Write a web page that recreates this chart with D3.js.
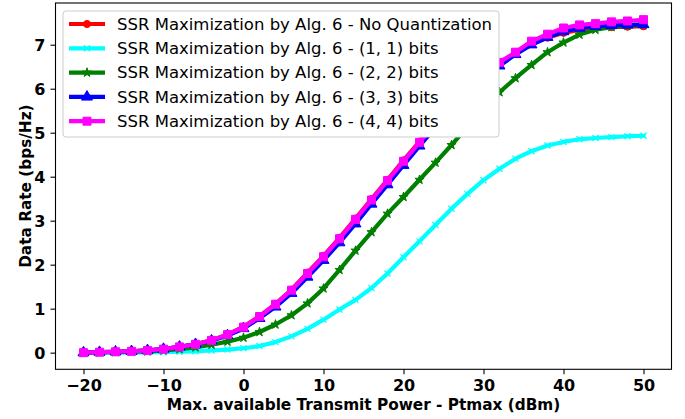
<!DOCTYPE html>
<html>
<head>
<meta charset="utf-8">
<script src="https://cdn.jsdelivr.net/npm/d3@7"></script>
<style>
  body { margin: 0; background: #fff; }
  svg { font-family: "DejaVu Sans", sans-serif; }
</style>
</head>
<body>
<svg id="chart" width="685" height="419"></svg>
<script>
// transmit power (dBm), one point every 2 dBm
var power = d3.range(-20, 51, 2);

var noQuant = [0, 0.01, 0.02, 0.03, 0.05, 0.08, 0.13, 0.19, 0.28, 0.41, 0.59, 0.83,
  1.11, 1.43, 1.82, 2.2, 2.61, 3.05, 3.49, 3.93, 4.37, 4.8, 5.21, 5.61, 5.97, 6.29,
  6.58, 6.8, 7.02, 7.16, 7.27, 7.34, 7.38, 7.4, 7.41, 7.42];
var bits11 = [0, 0, 0, 0, 0.005, 0.01, 0.02, 0.03, 0.05, 0.07, 0.1, 0.15,
  0.24, 0.37, 0.54, 0.75, 0.98, 1.2, 1.47, 1.8, 2.17, 2.53, 2.9, 3.27, 3.61, 3.92,
  4.18, 4.41, 4.58, 4.71, 4.79, 4.85, 4.88, 4.9, 4.92, 4.93];
var bits22 = [0, 0.005, 0.01, 0.02, 0.03, 0.05, 0.08, 0.12, 0.18, 0.25, 0.34, 0.47,
  0.64, 0.85, 1.12, 1.46, 1.88, 2.32, 2.74, 3.16, 3.54, 3.93, 4.32, 4.72, 5.14, 5.54,
  5.92, 6.24, 6.54, 6.83, 7.05, 7.23, 7.34, 7.4, 7.43, 7.45];
var bits33 = [0, 0.01, 0.02, 0.03, 0.05, 0.08, 0.13, 0.19, 0.27, 0.39, 0.55, 0.78,
  1.04, 1.35, 1.72, 2.1, 2.5, 2.93, 3.38, 3.82, 4.26, 4.7, 5.12, 5.52, 5.9, 6.24,
  6.52, 6.78, 7.0, 7.17, 7.3, 7.38, 7.42, 7.44, 7.45, 7.46];
var bits44 = [0, 0.01, 0.02, 0.03, 0.05, 0.08, 0.13, 0.19, 0.28, 0.41, 0.58, 0.82,
  1.1, 1.42, 1.8, 2.18, 2.59, 3.03, 3.47, 3.91, 4.35, 4.78, 5.2, 5.6, 5.97, 6.3,
  6.6, 6.83, 7.08, 7.24, 7.38, 7.45, 7.48, 7.52, 7.54, 7.57];

var labels = ["SSR Maximization by Alg. 6 - No Quantization",
  "SSR Maximization by Alg. 6 - (1, 1) bits",
  "SSR Maximization by Alg. 6 - (2, 2) bits",
  "SSR Maximization by Alg. 6 - (3, 3) bits",
  "SSR Maximization by Alg. 6 - (4, 4) bits"];
var colors = ["#ff0000", "#00ffff", "#008000", "#0000ff", "#ff00ff"];
var markers = ["circle", "x", "star", "triangle", "square"];
var xTicks = [-20, -10, 0, 10, 20, 30, 40, 50];
var yTicks = [0, 1, 2, 3, 4, 5, 6, 7];

var series = [noQuant, bits11, bits22, bits33, bits44];

var svg = d3.select("#chart");
var pLeft = 55.5, pRight = 671.5, pTop = 3, pBottom = 369.3;

var x = d3.scaleLinear().domain([-23.5, 53.5]).range([pLeft, pRight]);
var y = d3.scaleLinear().domain([-0.3785, 7.9485]).range([pBottom, pTop]);

// axes
var xAxis = svg.append("g")
  .attr("transform", "translate(0," + pBottom + ")")
  .call(d3.axisBottom(x).tickValues(xTicks).tickSize(5).tickPadding(5)
    .tickFormat(function(d) { return d < 0 ? "\u2212" + (-d) : d; }));
var yAxis = svg.append("g")
  .attr("transform", "translate(" + pLeft + ",0)")
  .call(d3.axisLeft(y).tickValues(yTicks).tickSize(5).tickPadding(5));

[xAxis, yAxis].forEach(function(a) {
  a.select(".domain").remove();
  a.selectAll("line").attr("stroke", "#000").attr("stroke-width", 1.1);
  a.selectAll("text").attr("fill", "#000")
    .style("font-size", "16px").style("font-weight", "bold")
    .style("font-family", "DejaVu Sans");
});
yAxis.selectAll("text").attr("dy", "0.35em");

function markerPath(kind) {
  if (kind == "circle") return d3.symbol().type(d3.symbolCircle).size(40)();
  if (kind == "square") return d3.symbol().type(d3.symbolSquare).size(64)();
  if (kind == "triangle") return d3.symbol().type(d3.symbolTriangle).size(52)();
  if (kind == "star") return d3.symbol().type(d3.symbolStar).size(26)();
  return "M-3,-3L3,3M-3,3L3,-3";
}

var line = d3.line()
  .x(function(d, i) { return x(power[i]); })
  .y(function(d) { return y(d); });

var plot = svg.append("g");
series.forEach(function(s, k) {
  var g = plot.append("g");
  g.append("path")
    .datum(s)
    .attr("d", line)
    .attr("fill", "none")
    .attr("stroke", colors[k])
    .attr("stroke-width", 4.2)
    .attr("stroke-linejoin", "round")
    .attr("stroke-linecap", "square");
  g.selectAll(".m")
    .data(s)
    .enter().append("path")
    .attr("transform", function(d, i) { return "translate(" + x(power[i]) + "," + y(d) + ")"; })
    .attr("d", markerPath(markers[k]))
    .attr("fill", markers[k] == "x" ? "none" : colors[k])
    .attr("stroke", colors[k])
    .attr("stroke-width", markers[k] == "x" ? 1.3 : 1);
});

// frame
svg.append("rect")
  .attr("x", pLeft).attr("y", pTop)
  .attr("width", pRight - pLeft).attr("height", pBottom - pTop)
  .attr("fill", "none").attr("stroke", "#000").attr("stroke-width", 1.1);

// axis titles
svg.append("text")
  .attr("x", (pLeft + pRight) / 2).attr("y", 410)
  .attr("text-anchor", "middle")
  .style("font-size", "15.3px").style("font-weight", "bold")
  .text("Max. available Transmit Power - Ptmax (dBm)");
svg.append("text")
  .attr("transform", "translate(31," + (pTop + pBottom) / 2 + ")rotate(-90)")
  .attr("text-anchor", "middle")
  .style("font-size", "15.3px").style("font-weight", "bold")
  .text("Data Rate (bps/Hz)");

// legend
var lg = svg.append("g");
lg.append("rect")
  .attr("x", 63).attr("y", 11).attr("width", 436).attr("height", 126)
  .attr("rx", 3).attr("fill", "#fff")
  .attr("stroke", "#cccccc").attr("stroke-width", 1);
labels.forEach(function(lab, k) {
  var ly = 24 + k * 24.3;
  lg.append("line")
    .attr("x1", 69).attr("x2", 105).attr("y1", ly).attr("y2", ly)
    .attr("stroke", colors[k]).attr("stroke-width", 4.2);
  lg.append("path")
    .attr("transform", "translate(87," + ly + ")")
    .attr("d", markerPath(markers[k]))
    .attr("fill", markers[k] == "x" ? "none" : colors[k])
    .attr("stroke", colors[k])
    .attr("stroke-width", markers[k] == "x" ? 1.3 : 1);
  lg.append("text")
    .attr("x", 117).attr("y", ly).attr("dy", "0.35em")
    .style("font-size", "16.5px")
    .text(lab);
});
</script>
</body>
</html>
